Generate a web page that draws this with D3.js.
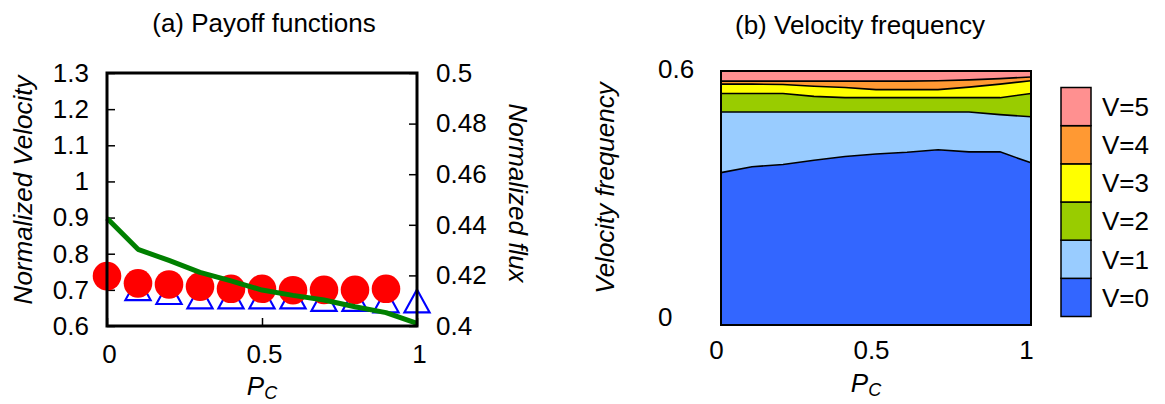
<!DOCTYPE html>
<html>
<head>
<meta charset="utf-8">
<script src="https://cdn.jsdelivr.net/npm/d3@7"></script>
<style>
  html, body { margin: 0; padding: 0; background: #fff; }
  svg text { font-family: "Liberation Sans", Arial, sans-serif; fill: #000; }
</style>
</head>
<body>
<svg id="chart" width="1165" height="404"></svg>
<script>
// ---------- data ----------
const pc = [0, 0.1, 0.2, 0.3, 0.4, 0.5, 0.6, 0.7, 0.8, 0.9, 1.0];
// (a) payoff functions
const defectorPc = [0, 0.1, 0.2, 0.3, 0.4, 0.5, 0.6, 0.7, 0.8, 0.9];
const defectorVelocity = [0.738, 0.718, 0.715, 0.709, 0.703, 0.703, 0.699, 0.700, 0.700, 0.703];
const cooperatorPc = [0.1, 0.2, 0.3, 0.4, 0.5, 0.6, 0.7, 0.8, 0.9, 1.0];
const cooperatorVelocity = [0.704, 0.693, 0.681, 0.681, 0.681, 0.681, 0.674, 0.674, 0.670, 0.670];
const flux = [0.4426, 0.4303, 0.4259, 0.4212, 0.4178, 0.4142, 0.4121, 0.4103, 0.4076, 0.4053, 0.4010];
const velTicksLeft = [0.6, 0.7, 0.8, 0.9, 1.0, 1.1, 1.2, 1.3];
const fluxTicks = [0.40, 0.42, 0.44, 0.46, 0.48, 0.50];
const pcTicks = [0, 0.5, 1];
// (b) velocity frequency (per velocity class)
const velKeys = ["V=0", "V=1", "V=2", "V=3", "V=4", "V=5"];
const v0 = [0.360, 0.374, 0.379, 0.389, 0.398, 0.404, 0.408, 0.414, 0.409, 0.409, 0.383];
const v1 = [0.143, 0.129, 0.124, 0.114, 0.105, 0.099, 0.095, 0.089, 0.094, 0.088, 0.109];
const v2 = [0.044, 0.044, 0.044, 0.037, 0.034, 0.034, 0.034, 0.034, 0.034, 0.040, 0.055];
const v3 = [0.022, 0.022, 0.021, 0.024, 0.024, 0.019, 0.019, 0.019, 0.025, 0.032, 0.030];
const v4 = [0.007, 0.007, 0.008, 0.012, 0.015, 0.020, 0.020, 0.021, 0.017, 0.013, 0.009];
const v5 = [0.024, 0.024, 0.024, 0.024, 0.024, 0.024, 0.024, 0.023, 0.021, 0.018, 0.014];
const freqTicks = [0, 0.6];
const velColors = ["#3366FF", "#99CCFF", "#99CC00", "#FFFF00", "#FF9933", "#FF9090"];

// ---------- setup ----------
const svg = d3.select("#chart");
const FS = 26;

function pcLabel(g, cx, y) {
  const t = g.append("text").attr("x", cx).attr("y", y).attr("text-anchor", "middle")
    .style("font-style", "italic").style("font-size", FS + "px");
  t.append("tspan").text("P");
  t.append("tspan").text("C").style("font-size", "18px").attr("dy", 4);
}

// ================= panel (a) =================
const ax = d3.scaleLinear().domain([0, 1]).range([107, 417]);
const ayL = d3.scaleLinear().domain([0.6, 1.3]).range([326, 73]);
const ayR = d3.scaleLinear().domain([0.4, 0.5]).range([326, 73]);
const gA = svg.append("g");

gA.append("text").attr("x", 264).attr("y", 32).attr("text-anchor", "middle")
  .style("font-size", FS + "px").text("(a) Payoff functions");

// axes
const fmt = d => d3.format(".2~f")(d);
const leftAxis = gA.append("g").attr("transform", "translate(107,0)")
  .call(d3.axisLeft(ayL).tickValues(velTicksLeft).tickSize(-8).tickPadding(18).tickFormat(fmt));
const rightAxis = gA.append("g").attr("transform", "translate(417,0)")
  .call(d3.axisRight(ayR).tickValues(fluxTicks).tickSize(-8).tickPadding(19).tickFormat(fmt));
const bottomAxis = gA.append("g").attr("transform", "translate(0,326)")
  .call(d3.axisBottom(ax).tickValues(pcTicks).tickSize(-8).tickPadding(19).tickFormat(fmt));
[leftAxis, rightAxis, bottomAxis].forEach(a => {
  a.select(".domain").remove();
  a.selectAll("line").attr("stroke", "#000").attr("stroke-width", 1.5);
  a.selectAll("text").style("font-size", FS + "px").attr("font-family", null);
});
bottomAxis.selectAll("text").attr("dx", 2);

// triangles (cooperators)
const tri = d3.symbol().type(d3.symbolTriangle).size(250);
gA.append("g").selectAll("path").data(cooperatorPc.map((p, i) => [p, cooperatorVelocity[i]]))
  .join("path")
  .attr("transform", d => `translate(${ax(d[0])},${ayL(d[1]) + 4}) scale(1.05,1.1)`)
  .attr("d", tri).attr("fill", "none").attr("stroke", "#0000FF").attr("stroke-width", 2);

// circles (defectors)
gA.append("g").selectAll("circle").data(defectorPc.map((p, i) => [p, defectorVelocity[i]]))
  .join("circle")
  .attr("cx", d => ax(d[0])).attr("cy", d => ayL(d[1])).attr("r", 14.3).attr("fill", "#FF0000");

// flux line
gA.append("path").datum(pc.map((p, i) => [p, flux[i]]))
  .attr("d", d3.line().x(d => ax(d[0])).y(d => ayR(d[1])))
  .attr("fill", "none").attr("stroke", "#008000").attr("stroke-width", 5).attr("stroke-linejoin", "round");

// frame
gA.append("rect").attr("x", 107).attr("y", 73).attr("width", 310).attr("height", 253)
  .attr("fill", "none").attr("stroke", "#000").attr("stroke-width", 3);

// axis titles
gA.append("text").attr("transform", "translate(32,190) rotate(-90)").attr("text-anchor", "middle")
  .style("font-size", FS + "px").style("font-style", "italic").text("Normalized Velocity");
gA.append("text").attr("transform", "translate(509,193) rotate(90)").attr("text-anchor", "middle")
  .style("font-size", FS + "px").style("font-style", "italic").text("Normalized flux");
pcLabel(gA, 262, 395);

// ================= panel (b) =================
const bx = d3.scaleLinear().domain([0, 1]).range([721, 1031]);
const by = d3.scaleLinear().domain([0, 0.6]).range([325, 71]);
const gB = svg.append("g");

gB.append("text").attr("x", 860).attr("y", 34).attr("text-anchor", "middle")
  .style("font-size", FS + "px").text("(b) Velocity frequency");

const series = [v0, v1, v2, v3, v4, v5];
const table = pc.map((p, i) => {
  const row = { pc: p };
  velKeys.forEach((k, j) => row[k] = series[j][i]);
  return row;
});
const stacked = d3.stack().keys(velKeys)(table);
const area = d3.area().x(d => bx(d.data.pc)).y0(d => by(d[0])).y1(d => by(Math.min(d[1], 0.6)));
gB.append("g").selectAll("path").data(stacked).join("path")
  .attr("d", area).attr("fill", (d, i) => velColors[i]);
const topLine = d3.line().x(d => bx(d.data.pc)).y(d => by(Math.min(d[1], 0.6)));
gB.append("g").selectAll("path").data(stacked.slice(0, 5)).join("path")
  .attr("d", topLine).attr("fill", "none").attr("stroke", "#000").attr("stroke-width", 1.6);

gB.append("rect").attr("x", 721).attr("y", 71).attr("width", 310).attr("height", 254)
  .attr("fill", "none").attr("stroke", "#000").attr("stroke-width", 2);

const bxAxis = gB.append("g").attr("transform", "translate(0,325)")
  .call(d3.axisBottom(bx).tickValues(pcTicks).tickSize(0).tickPadding(16).tickFormat(fmt));
bxAxis.select(".domain").remove();
bxAxis.selectAll("text").style("font-size", FS + "px").attr("font-family", null).attr("dx", -5);

const byAxis = gB.append("g").attr("transform", "translate(721,0)")
  .call(d3.axisLeft(by).tickValues(freqTicks).tickSize(0).tickPadding(0).tickFormat(d => d3.format("~g")(d)));
byAxis.select(".domain").remove();
byAxis.selectAll("text").style("font-size", FS + "px").attr("font-family", null)
  .attr("text-anchor", "start").attr("x", -63).attr("dy", (d) => d === 0 ? "0.0em" : "0.26em");

gB.append("text").attr("transform", "translate(614,188) rotate(-90)").attr("text-anchor", "middle")
  .style("font-size", FS + "px").style("font-style", "italic").text("Velocity frequency");
pcLabel(gB, 866, 392);

// legend
const legY = d3.scaleBand().domain(velKeys.slice().reverse()).range([87.5, 316.5]);
const leg = gB.append("g");
leg.selectAll("rect").data(velKeys).join("rect")
  .attr("x", 1061).attr("y", d => legY(d)).attr("width", 30).attr("height", legY.bandwidth())
  .attr("fill", (d, i) => velColors[i]).attr("stroke", "#000").attr("stroke-width", 1.5);
leg.selectAll("text").data(velKeys).join("text")
  .attr("x", 1102).attr("y", d => legY(d) + legY.bandwidth() / 2).attr("dy", "0.36em")
  .style("font-size", FS + "px").text(d => d);
</script>
</body>
</html>
